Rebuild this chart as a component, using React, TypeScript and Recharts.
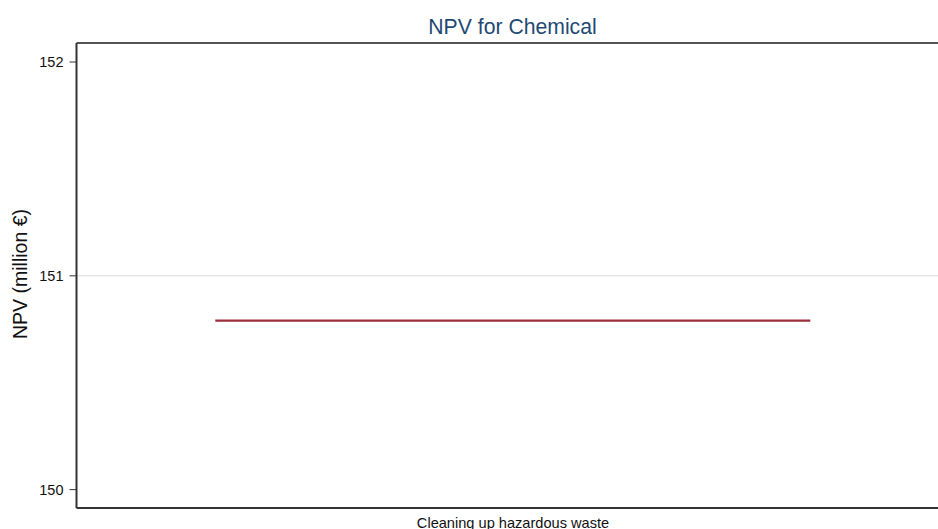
import { ComposedChart, Bar, XAxis, YAxis, ReferenceLine } from 'recharts';

// categories and values
const categories = ['Cleaning up hazardous waste'];
const npvValues = [150.79];
const yTicks = [150, 151, 152];

const data = categories.map((name, i) => ({ name, npv: npvValues[i] }));

const FONT = '"Liberation Sans", Arial, Helvetica, sans-serif';

// draws only the level of the value, like a flat line
const LevelShape = (props: any) => {
  const { x, y, width } = props;
  return <line x1={x} x2={x + width} y1={y} y2={y} stroke="#9b2f3b" strokeWidth={2.2} />;
};

const CategoryTick = ({ x, y, payload }: any) => (
  <text x={x} y={y + 18} textAnchor="middle" fontSize={14.6} fill="#111" fontFamily={FONT}>
    {payload.value}
  </text>
);

export default function App() {
  return (
    <div
      style={{
        position: 'fixed',
        left: 0,
        top: 0,
        width: 938,
        height: 529,
        overflow: 'hidden',
        background: '#fff',
        fontFamily: FONT,
      }}
    >
      <div
        style={{
          position: 'absolute',
          top: 15,
          left: 0,
          width: 1025,
          textAlign: 'center',
          fontSize: 21.2,
          color: '#1f4a74',
        }}
      >
        NPV for Chemical
      </div>
      <div
        style={{
          position: 'absolute',
          left: 20,
          top: 274,
          transform: 'translate(-50%, -50%) rotate(-90deg)',
          whiteSpace: 'nowrap',
          fontSize: 19.5,
          color: '#111',
        }}
      >
        NPV (million €)
      </div>
      <ComposedChart
        width={952}
        height={529}
        data={data}
        margin={{ top: 42, right: 2.5, bottom: 0, left: 0 }}
        barCategoryGap="15.9%"
        style={{ position: 'absolute', left: 0, top: 0 }}
      >
        <XAxis
          dataKey="name"
          xAxisId="bottom"
          height={21}
          tickLine={false}
          tickSize={0}
          axisLine={{ stroke: '#333', strokeWidth: 2 }}
          tick={<CategoryTick />}
          interval={0}
        />
        <XAxis
          dataKey="name"
          xAxisId="top"
          orientation="top"
          height={1}
          tick={false}
          tickLine={false}
          axisLine={{ stroke: '#555', strokeWidth: 2 }}
        />
        <YAxis
          width={76.5}
          domain={[149.914, 152.089]}
          ticks={yTicks}
          allowDataOverflow
          tickSize={7}
          tickMargin={6}
          tickLine={{ stroke: '#333' }}
          axisLine={{ stroke: '#333', strokeWidth: 2 }}
          tick={{ fill: '#111', fontSize: 14.5, fontFamily: FONT }}
        />
        <ReferenceLine y={151} xAxisId="bottom" stroke="#dddddd" strokeWidth={1} />
        <Bar
          dataKey="npv"
          xAxisId="bottom"
          shape={<LevelShape />}
          isAnimationActive={false}
        />
      </ComposedChart>
    </div>
  );
}
